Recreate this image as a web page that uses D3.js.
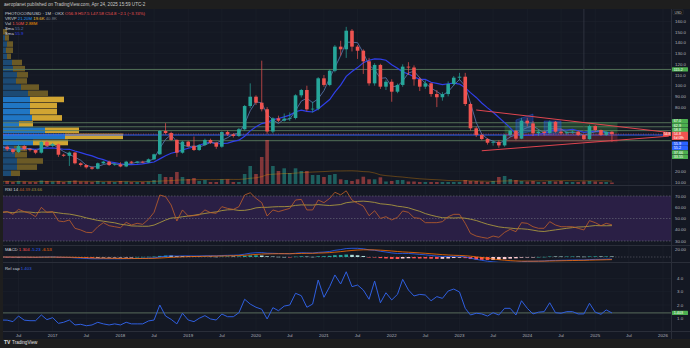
<!DOCTYPE html>
<html><head><meta charset="utf-8">
<script src="https://cdn.jsdelivr.net/npm/d3@7"></script>
<style>html,body{margin:0;padding:0;background:#1e1e1e;}svg{display:block;font-family:"Liberation Sans",Arial,sans-serif;}</style>
</head><body>
<svg id="c" width="690" height="348"></svg>
<script>
// ---- monthly OHLC, first bar April 2016 ----
const firstMonth = "2016-04";
const open  = [41.5,43.0,40.6,38.0,43.6,40.8,39.8,37.4,47.4,43.8,45.3,35.5,34.5,37.5,27.5,25.9,23.7,22.4,27.5,29.0,25.9,26.5,24.5,29.0,28.0,29.0,28.2,31.2,35.9,57.7,55.8,49.3,37.4,47.7,43.6,39.9,44.6,49.3,46.7,43.0,56.7,54.5,53.0,59.3,81.0,89.7,84.1,78.0,57.2,69.5,67.3,69.2,69.8,91.0,96.0,77.9,78.5,106.9,100.7,114.0,136.5,134.0,151.4,136.5,132.7,122.8,102.2,119.4,99.1,103.7,94.4,100.7,117.8,117.0,106.0,99.1,102.2,92.2,89.2,92.2,101.6,107.5,108.4,82.9,60.2,53.9,50.2,46.7,47.5,44.2,53.9,57.9,50.5,67.3,64.8,55.5,57.0,55.8,66.3,57.0,55.5,56.5,57.0,53.9,50.0,62.3,58.6,53.9,56.9];
const high  = [44.0,44.0,41.5,45.0,44.5,41.5,40.5,48.5,49.0,46.5,46.0,36.5,38.5,38.0,28.5,26.5,24.5,28.2,29.8,30.0,27.5,28.5,29.8,29.7,29.6,29.8,32.0,36.5,58.5,65.0,57.0,50.0,48.5,48.5,52.5,45.5,50.5,50.5,47.5,57.5,58.0,55.5,60.5,82.0,102.2,91.0,123.4,80.0,70.5,72.0,74.0,75.0,92.0,97.0,100.0,85.0,108.0,110.0,115.0,138.0,142.0,155.0,153.0,138.0,134.0,126.0,121.0,120.5,105.5,106.0,102.0,120.0,122.0,119.0,108.0,105.0,103.0,96.0,94.0,104.0,109.0,112.0,112.0,84.0,62.0,55.0,51.0,49.0,49.0,55.0,59.0,58.5,70.0,70.0,67.0,59.0,58.0,67.5,67.0,60.0,57.5,58.0,58.0,54.5,63.5,63.0,59.0,57.5,57.5];
const low   = [40.5,39.0,36.5,37.0,39.5,38.5,36.0,36.5,43.0,42.5,33.5,33.5,25.0,26.5,24.5,22.5,21.5,21.8,26.8,25.0,25.2,23.8,23.8,27.0,27.3,27.5,27.8,30.5,35.2,54.5,48.5,33.5,36.5,42.5,39.0,39.0,43.5,45.5,41.0,42.0,53.0,51.5,52.0,58.0,79.0,82.0,76.0,55.0,55.5,66.0,66.5,67.0,68.5,89.0,76.0,75.0,77.0,99.0,99.5,112.5,128.0,126.0,132.0,125.0,111.0,100.0,100.0,97.0,96.0,85.0,93.0,99.0,110.0,100.0,95.0,97.0,89.7,80.0,86.0,90.0,100.0,105.0,81.0,58.0,52.0,49.0,45.0,44.0,42.0,43.0,52.0,49.0,50.0,62.0,53.0,53.0,53.5,54.5,56.0,54.0,54.0,55.0,53.0,49.0,49.5,57.0,53.0,53.0,47.58];
const close = [43.0,40.6,38.0,43.6,40.8,39.8,37.4,47.4,43.8,45.3,35.5,34.5,37.5,27.5,25.9,23.7,22.4,27.5,29.0,25.9,26.5,24.5,29.0,28.0,29.0,28.2,31.2,35.9,57.7,55.8,49.3,37.4,47.7,43.6,39.9,44.6,49.3,46.7,43.0,56.7,54.5,53.0,59.3,81.0,89.7,84.1,78.0,57.2,69.5,67.3,69.2,69.8,91.0,96.0,77.9,78.5,106.9,100.7,114.0,136.5,134.0,151.4,136.5,132.7,122.8,102.2,119.4,99.1,103.7,94.4,100.7,117.8,117.0,106.0,99.1,102.2,92.2,89.2,92.2,101.6,107.5,108.4,82.9,60.2,53.9,50.2,46.7,47.5,44.2,53.9,57.9,50.5,67.3,64.8,55.5,57.0,55.8,66.3,57.0,55.5,56.5,57.0,53.9,50.0,62.3,58.6,53.9,56.9,54.8];
// monthly volume, millions
const volume = [2.5,3,2,3,2.5,2,2,3.5,3,2.5,3,2,3,3.5,2.5,2.5,2,3,2,2.5,2,3,2.5,2,2,2,2.5,4,10,7,7,12,7,5,6,3,4,2,2,4.7,4.7,2,2,10,18,10,27,44,18,13,15.7,11,15.7,13,13,9,9,7,9,10,4.7,4,3,4.7,7.3,4.7,4.7,6.7,2.5,3,4,4,2.5,2.5,2,2,2,2,2,2,2,2,4,3,3,2.5,2,3,7,8,5,4,3,2.5,3,2,2,3,2.5,3,2,2,2,2.5,3,2.5,2,2,1.5];
// RSI(14), one value per bar
const rsi = [55.5,56.1,53.7,58.1,56.1,54.6,51.6,59.9,55.5,56.1,47.8,47.2,48.7,41.3,39.8,37.7,37.4,42.7,46.3,43.6,42.7,41.8,46.6,44.2,45.7,44.8,49.3,55.5,70.9,69.4,62.0,47.8,57.6,52.2,52.5,53.1,57.6,55.2,54.6,60.5,59.0,58.1,60.5,70.9,72.9,67.9,64.1,52.2,57.6,56.1,57.6,59.0,66.4,67.0,57.6,57.6,66.4,64.1,67.9,73.3,71.0,74.6,66.4,63.5,61.1,52.5,56.9,50.1,51.6,48.7,51.0,56.7,55.5,50.7,50.1,46.3,46.3,46.3,47.2,51.6,53.7,53.7,45.7,36.8,34.4,33.3,32.4,34.4,33.3,37.7,40.4,38.3,46.3,45.7,42.7,41.3,41.3,47.2,44.2,42.7,42.7,42.7,41.3,39.8,48.1,46.3,43.6,45.7,44.39];
// relative market-cap ratio
const relCap = [0.87,0.86,0.75,1.17,0.86,0.82,0.82,1.25,0.9,1.05,0.62,0.7,0.87,0.5,0.55,0.44,0.5,0.7,0.58,0.5,0.58,0.5,0.7,0.58,0.58,0.58,0.8,0.87,2.0,1.17,0.92,0.58,1.38,0.87,0.75,1.0,1.2,0.95,0.87,1.32,1.12,1.12,1.42,2.43,2.07,1.83,1.68,0.95,1.8,1.57,1.92,2.0,2.88,2.7,1.83,2.07,3.88,2.58,3.38,4.26,3.58,4.5,3.38,3.5,3.13,2.43,3.8,2.17,2.92,2.38,2.8,3.93,3.13,2.68,2.8,2.75,2.32,2.63,2.5,3.05,3.2,2.98,1.75,1.25,1.38,1.33,1.17,1.42,1.25,1.75,1.75,1.25,2.32,1.75,1.33,1.46,1.5,2.17,1.42,1.38,1.5,1.5,1.33,1.33,2.13,1.46,1.3,1.63,1.403];

// visible-range volume profile rows (top to bottom)
const vpTop = 153, vpRow = 5.75;
const vpUp   = [0,2,4,3,4,9,10,14,13,18,25,27,27,27,29,16,42,62,30,11,12,14,14,8];
const vpDown = [4,4,6,7,4,10,12,11,11,18,20,34,27,27,30,14,34,58,35,13,12,26,20,9];
const vpValueArea = [11,18];

// drawn levels and tools
const greenLevels = [115.2, 65.4, 61.6, 58.0, 48.6];
const blueLevels = [53.9];
const trendLines = [["2023-04", 77.3, "2026-02", 56.3], ["2023-05", 39.2, "2026-02", 52.8]];
const longBox = {from:"2023-09", to:"2025-05", entry:55.5, target:65.8, stop:47.1};
const blueShapes = [[["2023-11",53.9],["2023-11",68.0],["2024-02",73.5],["2024-02",58.0]],
                    [["2024-04",53.9],["2024-04",67.0],["2024-07",67.0],["2024-07",56.0]]];
const markerDate = "2024-11";

// axis ticks
const priceTicks = [160,150,140,130,120,110,100,90,80,70,60,50,40,30,20,10];
const rsiTicks = [70,60,50,40,30];
const capTicks = [4,3,2,1];
const timeTicks = ["2016-07","2017-01","2017-07","2018-01","2018-07","2019-01","2019-07","2020-01","2020-07","2021-01","2021-07","2022-01","2022-07","2023-01","2023-07","2024-01","2024-07","2025-01","2025-07","2026-01"];
const timeLabels = ["Jul","2017","Jul","2018","Jul","2019","Jul","2020","Jul","2021","Jul","2022","Jul","2023","Jul","2024","Jul","2025","Jul","2026"];

// ---- helpers ----
const pm = d3.utcParse("%Y-%m");
const dates = d3.utcMonth.range(pm(firstMonth), d3.utcMonth.offset(pm(firstMonth), close.length));
const sma = (a, n) => a.map((_, i) => d3.mean(a.slice(Math.max(0, i - n + 1), i + 1)));
const ema = (a, n) => { const k = 2 / (n + 1); const o = []; a.forEach((v, i) => o.push(i ? v * k + o[i - 1] * (1 - k) : v)); return o; };

const sFast = sma(close, 3), sSlow = sma(close, 10);
const volMa = sma(volume, 20);
const rsiMa = sma(rsi, 14);
const e12 = ema(close, 12), e26 = ema(close, 26);
const macd = e12.map((v, i) => v - e26[i]);
const signal = ema(macd, 9);
const hist = macd.map((v, i) => v - signal[i]);

// ---- layout ----
const W = 690, H = 348, L = 3, R = 671;
const P = {main: [9, 185], rsi: [186, 245], macd: [246, 262], cap: [263, 331]};
const BG = "#141823", GRID = "#1d212c", SEP = "#2a2e39", TXT = "#b2b5be";
const UP = "#26a69a", DN = "#ef5350";

const svg = d3.select("#c");
const x = d3.scaleUtc().domain([pm("2016-07"), pm("2026-01")]).range([18.5, 663]);
const y = d3.scaleLinear().domain([100, 20]).range([85.7, 171.3]);
const yVol = d3.scaleLinear().domain([0, 44]).range([184, 140]);
const yRsi = d3.scaleLinear().domain([30, 70]).range([241, 196]);
const yMacd = d3.scaleLinear().domain([0, 20]).range([257, 249]);
const yCap = d3.scaleLinear().domain([1, 4]).range([318.3, 278.4]);
const bw = 3.6;

svg.append("rect").attr("width", W).attr("height", H).attr("fill", "#1e1e1e");
svg.append("rect").attr("x", L).attr("y", P.main[0]).attr("width", W - L).attr("height", 331 - P.main[0] + 8).attr("fill", BG);

const defs = svg.append("defs");
Object.entries(P).forEach(([k, [a, b]]) => {
  defs.append("clipPath").attr("id", "clip-" + k).append("rect").attr("x", L).attr("y", a).attr("width", R - L).attr("height", b - a);
});
const pane = k => svg.append("g").attr("clip-path", `url(#clip-${k})`);

// grid
const grid = svg.append("g").attr("stroke", GRID).attr("stroke-width", 0.6);
timeTicks.forEach(t => {
  Object.values(P).forEach(([a, b]) => grid.append("line").attr("x1", x(pm(t))).attr("x2", x(pm(t))).attr("y1", a).attr("y2", b));
});
priceTicks.forEach(v => { if (y(v) > P.main[0] && y(v) < P.main[1]) grid.append("line").attr("x1", L).attr("x2", R).attr("y1", y(v)).attr("y2", y(v)); });
capTicks.forEach(v => grid.append("line").attr("x1", L).attr("x2", R).attr("y1", yCap(v)).attr("y2", yCap(v)));

// pane separators
const sep = svg.append("g").attr("stroke", SEP).attr("stroke-width", 1);
[185.5, 245.5, 262.5, 331.5].forEach(v => sep.append("line").attr("x1", L).attr("x2", W).attr("y1", v).attr("y2", v));
sep.append("line").attr("x1", R + 0.5).attr("x2", R + 0.5).attr("y1", P.main[0]).attr("y2", 339);

// ---- main pane ----
const gm = pane("main");

// volume profile
vpUp.forEach((u, i) => {
  const top = y(vpTop - i * vpRow), h = y(vpTop - (i + 1) * vpRow) - top - 0.6;
  const inVA = i >= vpValueArea[0] && i <= vpValueArea[1];
  gm.append("rect").attr("x", L).attr("y", top).attr("width", u).attr("height", h).attr("fill", inVA ? "#2076c4" : "#1c4a74");
  gm.append("rect").attr("x", L + u).attr("y", top).attr("width", vpDown[i]).attr("height", h).attr("fill", inVA ? "#d1a532" : "#6b5a26");
});

// levels
greenLevels.forEach(v => gm.append("line").attr("x1", L).attr("x2", R).attr("y1", y(v)).attr("y2", y(v)).attr("stroke", "#5a7a5e").attr("stroke-width", 0.9));
blueLevels.forEach(v => gm.append("line").attr("x1", L).attr("x2", R).attr("y1", y(v)).attr("y2", y(v)).attr("stroke", "#2962ff").attr("stroke-width", 1.1));

// long position box
const bx0 = x(pm(longBox.from)), bx1 = x(pm(longBox.to));
gm.append("rect").attr("x", bx0).attr("y", y(longBox.target)).attr("width", bx1 - bx0).attr("height", y(longBox.entry) - y(longBox.target)).attr("fill", "rgba(76,175,80,0.25)");
gm.append("rect").attr("x", bx0).attr("y", y(longBox.entry)).attr("width", bx1 - bx0).attr("height", y(longBox.stop) - y(longBox.entry)).attr("fill", "rgba(242,54,69,0.22)");

// projection shapes
blueShapes.forEach(s => gm.append("polygon").attr("points", s.map(p => [x(pm(p[0])), y(p[1])].join(",")).join(" "))
  .attr("fill", "rgba(41,98,255,0.3)").attr("stroke", "rgba(41,98,255,0.6)").attr("stroke-width", 0.6));

// vertical marker
gm.append("line").attr("x1", x(pm(markerDate))).attr("x2", x(pm(markerDate))).attr("y1", P.main[0]).attr("y2", P.main[1]).attr("stroke", "#3a3e49").attr("stroke-width", 0.7);

// volume bars
dates.forEach((d, i) => {
  gm.append("rect").attr("x", x(d) - bw / 2).attr("y", yVol(volume[i])).attr("width", bw).attr("height", yVol(0) - yVol(volume[i]))
    .attr("fill", close[i] >= open[i] ? "rgba(38,166,154,0.5)" : "rgba(239,83,80,0.5)");
});
gm.append("path").datum(volMa).attr("fill", "none").attr("stroke", "rgba(255,152,0,0.45)").attr("stroke-width", 0.7)
  .attr("d", d3.line().x((_, i) => x(dates[i])).y(v => yVol(v)));

// moving averages
gm.append("path").datum(sSlow).attr("fill", "none").attr("stroke", "#2f3fe8").attr("stroke-width", 1.2)
  .attr("d", d3.line().x((_, i) => x(dates[i])).y(v => y(v)));
gm.append("path").datum(sFast).attr("fill", "none").attr("stroke", "#5b7bb5").attr("stroke-width", 0.8)
  .attr("d", d3.line().x((_, i) => x(dates[i])).y(v => y(v)));

// candles
dates.forEach((d, i) => {
  const c = close[i] >= open[i] ? UP : DN, cx = x(d);
  gm.append("line").attr("x1", cx).attr("x2", cx).attr("y1", y(high[i])).attr("y2", y(low[i])).attr("stroke", c).attr("stroke-width", 0.7);
  const t = y(Math.max(open[i], close[i])), b = y(Math.min(open[i], close[i]));
  gm.append("rect").attr("x", cx - bw / 2).attr("y", t).attr("width", bw).attr("height", Math.max(0.7, b - t)).attr("fill", c);
});

// trend lines
trendLines.forEach(t => gm.append("line").attr("x1", x(pm(t[0]))).attr("y1", y(t[1])).attr("x2", x(pm(t[2]))).attr("y2", y(t[3])).attr("stroke", "#e0454f").attr("stroke-width", 1));

// last price line
const last = close[close.length - 1];
gm.append("line").attr("x1", L).attr("x2", R).attr("y1", y(last)).attr("y2", y(last)).attr("stroke", DN).attr("stroke-width", 0.6).attr("stroke-dasharray", "1,1.5");

// ---- RSI pane ----
const gr = pane("rsi");
gr.append("rect").attr("x", L).attr("y", yRsi(70)).attr("width", R - L).attr("height", yRsi(30) - yRsi(70)).attr("fill", "#2a1f45");
[70, 50, 30].forEach(v => gr.append("line").attr("x1", L).attr("x2", R).attr("y1", yRsi(v)).attr("y2", yRsi(v)).attr("stroke", "#6c6f7a").attr("stroke-width", 0.6).attr("stroke-dasharray", "1.5,1.5"));
gr.append("path").datum(rsiMa).attr("fill", "none").attr("stroke", "#a8963e").attr("stroke-width", 0.9).attr("d", d3.line().x((_, i) => x(dates[i])).y(v => yRsi(v)));
gr.append("path").datum(rsi).attr("fill", "none").attr("stroke", "#c0602a").attr("stroke-width", 0.8).attr("d", d3.line().x((_, i) => x(dates[i])).y(v => yRsi(v)));

// ---- MACD pane ----
const gd = pane("macd");
gd.append("line").attr("x1", L).attr("x2", R).attr("y1", yMacd(0)).attr("y2", yMacd(0)).attr("stroke", "#6c6f7a").attr("stroke-width", 0.5).attr("stroke-dasharray", "1.5,1.5");
hist.forEach((h, i) => {
  const prev = i ? hist[i - 1] : h;
  const col = h >= 0 ? (h >= prev ? "#26a69a" : "#b2dfdb") : (h < prev ? "#ff5252" : "#ffcdd2");
  gd.append("rect").attr("x", x(dates[i]) - bw / 2).attr("y", Math.min(yMacd(h), yMacd(0))).attr("width", bw).attr("height", Math.max(0.5, Math.abs(yMacd(h) - yMacd(0)))).attr("fill", col);
});
gd.append("path").datum(macd).attr("fill", "none").attr("stroke", "#2962ff").attr("stroke-width", 0.8).attr("d", d3.line().x((_, i) => x(dates[i])).y(v => yMacd(v)));
gd.append("path").datum(signal).attr("fill", "none").attr("stroke", "#ff6d00").attr("stroke-width", 0.8).attr("d", d3.line().x((_, i) => x(dates[i])).y(v => yMacd(v)));

// ---- relative cap pane ----
const gc = pane("cap");
gc.append("line").attr("x1", L).attr("x2", R).attr("y1", yCap(relCap[relCap.length - 1])).attr("y2", yCap(relCap[relCap.length - 1])).attr("stroke", "#4a5a50").attr("stroke-width", 1.2);
gc.append("path").datum(relCap).attr("fill", "none").attr("stroke", "#2f5fe0").attr("stroke-width", 1).attr("d", d3.line().x((_, i) => x(dates[i])).y(v => yCap(v)));

// ---- right-hand price tags ----
const tagYs = [121, 125.4, 129.8, 143.6, 148, 152.4, 156.8];
const tagCols = ["#4caf50", "#4caf50", "#4caf50", "#2962ff", "#2962ff", "#4caf50", "#4caf50"];
const tagTxt = [y.invert(121).toFixed(1), y.invert(125.4).toFixed(1), y.invert(129.8).toFixed(1),
  sSlow.at(-1).toFixed(1), sFast.at(-1).toFixed(1), y.invert(152.4).toFixed(2), y.invert(156.8).toFixed(2)];
const occupied = [y(115.2), ...tagYs, y(close.at(-1)), y(close.at(-1)) + 4];

// ---- axes text ----
const ax = svg.append("g").attr("font-size", 4.4).attr("fill", TXT);
priceTicks.forEach(v => {
  const yy = y(v);
  if (yy > 14 && yy < 184 && occupied.every(o => Math.abs(o - yy) > 4.2))
    ax.append("text").attr("x", 675).attr("y", yy + 1.5).text(v >= 100 ? v.toFixed(1) : v.toFixed(2));
});
rsiTicks.forEach(v => ax.append("text").attr("x", 675).attr("y", yRsi(v) + 1.5).text(v.toFixed(2)));
ax.append("text").attr("x", 675).attr("y", yMacd(20) + 1.5).text("20.00");
capTicks.forEach(v => { if (Math.abs(yCap(v) - yCap(relCap.at(-1))) > 4.5) ax.append("text").attr("x", 677).attr("y", yCap(v) + 1.5).text(v.toFixed(1)); });
timeTicks.forEach((t, i) => ax.append("text").attr("x", x(pm(t))).attr("y", 336.5).attr("text-anchor", "middle").text(timeLabels[i]));

const tag = (yy, col, txt) => {
  svg.append("rect").attr("x", 672).attr("y", yy - 2.1).attr("width", 16).attr("height", 4.2).attr("fill", col).attr("rx", 0.5);
  svg.append("text").attr("x", 673.8).attr("y", yy + 1.3).attr("font-size", 3.7).attr("fill", "#fff").text(txt);
};
svg.append("rect").attr("x", 673).attr("y", 10).attr("width", 10).attr("height", 4.5).attr("fill", "#0c0e13").attr("stroke", "#555").attr("stroke-width", 0.3);
svg.append("text").attr("x", 674.5).attr("y", 13.6).attr("font-size", 3.4).attr("fill", "#ccc").text("USD");
tag(y(115.2), "#4caf50", "115.2");
tagYs.forEach((v, i) => tag(v, tagCols[i], tagTxt[i]));
// last price with bar countdown
const ly = y(close.at(-1));
svg.append("rect").attr("x", 672).attr("y", ly - 2.3).attr("width", 16).attr("height", 8.2).attr("fill", DN).attr("rx", 0.5);
svg.append("text").attr("x", 673.8).attr("y", ly + 1.2).attr("font-size", 3.7).attr("fill", "#fff").text(close.at(-1).toFixed(1));
svg.append("text").attr("x", 673.8).attr("y", ly + 5.0).attr("font-size", 3.3).attr("fill", "#fff").text("6d 08h");
svg.append("rect").attr("x", 663).attr("y", ly - 2).attr("width", 8).attr("height", 4).attr("fill", DN);
svg.append("text").attr("x", 664).attr("y", ly + 1.2).attr("font-size", 3.2).attr("fill", "#fff").text(close.at(-1).toFixed(1));
tag(yCap(relCap.at(-1)), "#4caf50", relCap.at(-1).toFixed(3));

// ---- legends ----
const lg = svg.append("g").attr("font-size", 4.3);
const leg = (xx, yy, parts) => {
  const t = lg.append("text").attr("x", xx).attr("y", yy);
  parts.forEach(([s, c]) => t.append("tspan").attr("fill", c).text(s + " "));
};
leg(5, 14.5, [["PHOTOCOIN/USD · 1M · OKX", "#d1d4dc"], ["O" + open.at(-1), DN], ["H" + high.at(-1), DN], ["L" + low.at(-1), DN], ["C" + close.at(-1), DN], ["−2.1 (−3.74%)", DN]]);
leg(5, 19.5, [["VRVP", "#d1d4dc"], ["21.20M", "#2196f3"], ["19.6K", "#fbc02d"], ["40.8K", "#787b86"]]);
leg(5, 24.5, [["Vol", "#d1d4dc"], [volume.at(-1).toFixed(2) + "M", DN], [volMa.at(-1).toFixed(2) + "M", "#ff9800"]]);
leg(5, 29.5, [["Sma", "#d1d4dc"], [sFast.at(-1).toFixed(1), "#5b7bb5"]]);
leg(5, 34.5, [["Sma", "#d1d4dc"], [sSlow.at(-1).toFixed(1), "#2f3fe8"]]);
leg(5, 190.5, [["RSI 14", "#d1d4dc"], [rsi.at(-1).toFixed(2), "#c0602a"], [rsiMa.at(-1).toFixed(2), "#a8963e"]]);
leg(5, 251, [["MACD", "#d1d4dc"], [hist.at(-1).toFixed(3), "#ff5252"], [macd.at(-1).toFixed(2), "#2962ff"], [signal.at(-1).toFixed(2), "#ff6d00"]]);
leg(5, 270, [["Rel cap", "#d1d4dc"], [relCap.at(-1).toFixed(3), "#2f5fe0"]]);

// header and footer
svg.append("text").attr("x", 4).attr("y", 6).attr("font-size", 4.6).attr("fill", "#c8c8c8").text("aeroplanet published on TradingView.com, Apr 24, 2025 15:59 UTC-2");
const ft = svg.append("g").attr("transform", "translate(4,344)");
ft.append("text").attr("font-size", 5).attr("font-weight", "bold").attr("fill", "#e0e0e0").text("TV");
ft.append("text").attr("x", 8).attr("font-size", 4.6).attr("fill", "#e0e0e0").text("TradingView");
</script>
</body></html>
